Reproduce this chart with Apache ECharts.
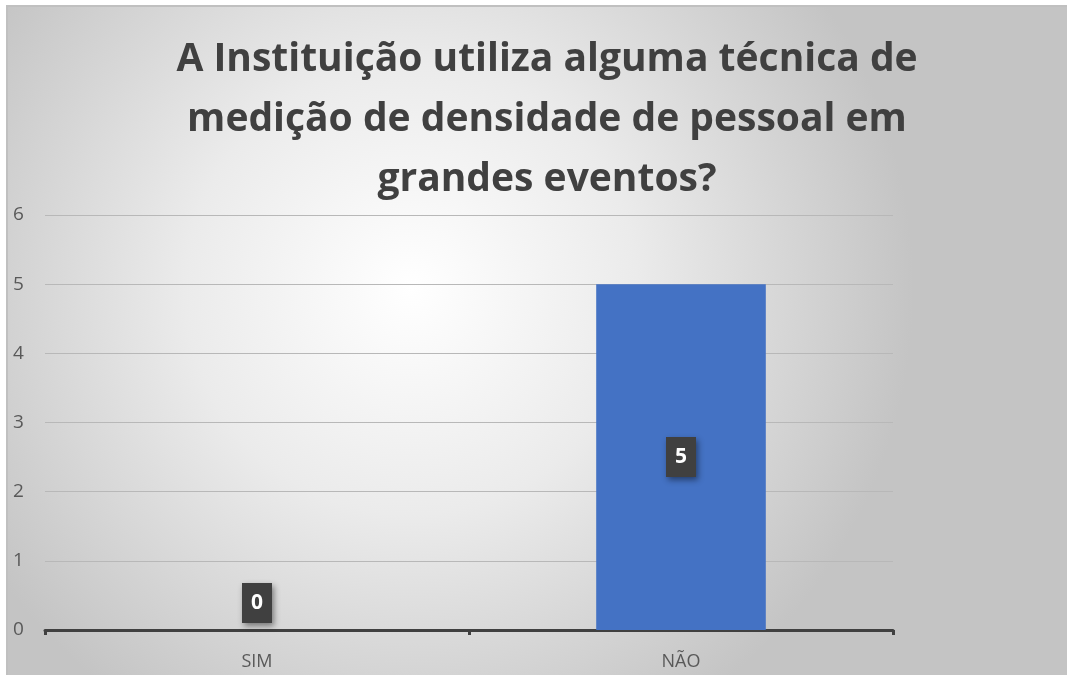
<!DOCTYPE html>
<html>
<head>
<meta charset="utf-8">
<script src="https://cdn.jsdelivr.net/npm/echarts@6/dist/echarts.min.js"></script>
<style>
  html, body { margin: 0; padding: 0; background: #fff; }
  #main { position: absolute; left: 6px; top: 5px; width: 1061px; height: 670px;
          border-left: 2px solid #c0c0c0; border-top: 2px solid #c0c0c0; }
</style>
</head>
<body>
<div id="main"></div>
<script>
// dados do gráfico
const categories = ['SIM', 'NÃO']
const values = [0, 5]
const titleText = 'A Instituição utiliza alguma técnica de\nmedição de densidade de pessoal em\ngrandes eventos?'

const chart = echarts.init(document.getElementById('main'))

const labelStyle = {
  show: true,
  color: '#fff',
  fontFamily: 'Open Sans',
  fontWeight: 'bold',
  fontSize: 21,
  width: 16,
  align: 'center',
  backgroundColor: '#404040',
  padding: [10, 7, 9, 7],
  shadowColor: 'rgba(0,0,0,0.45)',
  shadowBlur: 6,
  shadowOffsetX: 2,
  shadowOffsetY: 3
}

const option = {
  backgroundColor: {
    type: 'radial', x: 0.38, y: 0.42, r: 0.75,
    colorStops: [
      { offset: 0, color: '#ffffff' },
      { offset: 0.45, color: '#ebebeb' },
      { offset: 1, color: '#c4c4c4' }
    ]
  },
  title: {
    text: titleText,
    left: 534,
    top: 18,
    textAlign: 'center',
    textStyle: {
      fontFamily: 'Open Sans',
      fontWeight: 'bold',
      fontSize: 39,
      lineHeight: 60,
      color: '#404040'
    }
  },
  grid: { left: 37, right: 176, top: 208, bottom: 47, containLabel: false },
  xAxis: {
    type: 'category',
    data: categories,
    axisLine: { lineStyle: { color: '#404040', width: 3 } },
    axisTick: { show: true, length: 5, lineStyle: { color: '#404040', width: 3 } },
    axisLabel: { color: '#595959', fontSize: 18, fontFamily: 'Open Sans', margin: 23 }
  },
  yAxis: {
    type: 'value',
    min: 0,
    max: 6,
    interval: 1,
    axisLine: { show: false },
    axisTick: { show: false },
    axisLabel: { color: '#595959', fontSize: 19, fontFamily: 'Open Sans', margin: 32, align: 'left' },
    splitLine: { lineStyle: { color: '#b8b8b8', width: 1 } }
  },
  series: [{
    type: 'bar',
    barWidth: '40%',
    itemStyle: { color: '#4472C4' },
    data: values.map(v => ({
      value: v,
      label: Object.assign({}, labelStyle, { position: v === 0 ? 'top' : 'inside', distance: 7 })
    }))
  }]
}
chart.setOption(option)
</script>
</body>
</html>
